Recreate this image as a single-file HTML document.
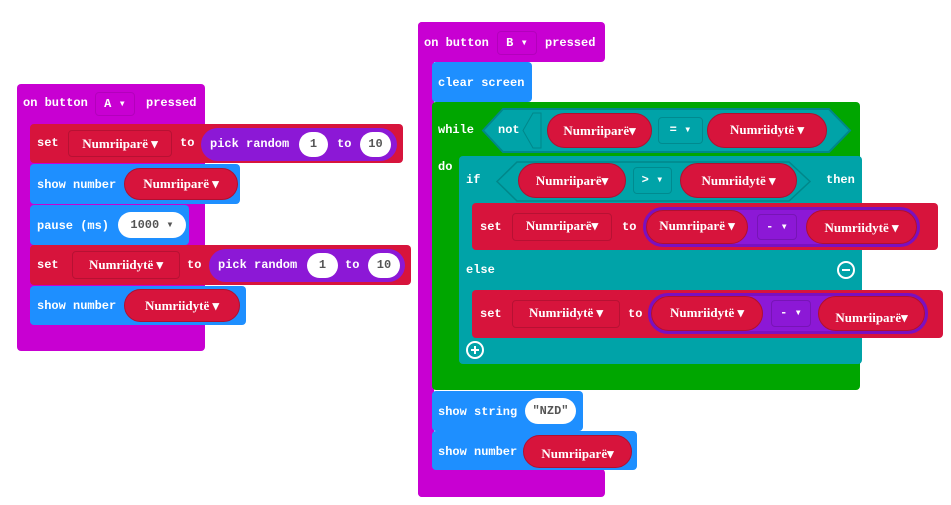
<!DOCTYPE html>
<html><head><meta charset="utf-8">
<style>
body{margin:0;width:951px;height:505px;background:#fff;position:relative;overflow:hidden;font-family:"Liberation Mono","DejaVu Sans Mono",monospace;font-weight:bold;font-size:12px;color:#fff}
div{position:absolute;box-sizing:border-box}
.m{background:#c800d2;border-radius:4px}
.r{background:#d7143c;border-radius:4px}
.b{background:#1e8fff;border-radius:4px}
.p{background:#8c18d6;border-radius:17px}
.g{background:#00a600;border-radius:4px}
.t{background:#00a3a8;border-radius:4px}
.pill{background:#d7143c;border-radius:18px;border:1px solid #b00f30;font-family:"Liberation Serif",serif;font-size:13px;text-align:center}
.w{background:#fff;color:#555;border-radius:14px;text-align:center;font-family:"Liberation Mono",monospace}
.dd{border:1px solid rgba(0,0,0,.15);border-radius:4px;text-align:center}
.s{white-space:nowrap}
</style></head><body>

<!-- LEFT -->
<div class="m" style="left:17px;top:84px;width:188px;height:267px"></div>
<div class="s" style="left:23px;top:96px">on button</div>
<div class="dd" style="left:95px;top:92px;width:40px;height:24px;line-height:22px;border-color:rgba(0,0,0,.1)">A ▾</div>
<div class="s" style="left:146px;top:96px">pressed</div>

<div class="r" style="left:30px;top:124px;width:373px;height:39px"></div>
<div class="s" style="left:37px;top:136px">set</div>
<div class="dd" style="left:68px;top:130px;width:104px;height:27px;line-height:25px;font-family:'Liberation Serif',serif;font-size:13px">Numriiparë ▾</div>
<div class="s" style="left:180px;top:136px">to</div>
<div class="p" style="left:201px;top:128px;width:196px;height:33px"></div>
<div class="s" style="left:210px;top:137px">pick random</div>
<div class="w" style="left:299px;top:132px;width:29px;height:25px;line-height:25px">1</div>
<div class="s" style="left:337px;top:137px">to</div>
<div class="w" style="left:360px;top:132px;width:31px;height:25px;line-height:25px">10</div>

<div class="b" style="left:30px;top:164px;width:210px;height:40px"></div>
<div class="s" style="left:37px;top:178px">show number</div>
<div class="pill" style="left:124px;top:168px;width:114px;height:32px;line-height:30px">Numriiparë ▾</div>

<div class="b" style="left:30px;top:205px;width:159px;height:40px"></div>
<div class="s" style="left:37px;top:219px">pause (ms)</div>
<div class="w" style="left:118px;top:212px;width:68px;height:26px;line-height:26px">1000 ▾</div>

<div class="r" style="left:30px;top:245px;width:381px;height:40px"></div>
<div class="s" style="left:37px;top:258px">set</div>
<div class="dd" style="left:72px;top:251px;width:108px;height:28px;line-height:26px;font-family:'Liberation Serif',serif;font-size:13px">Numriidytë ▾</div>
<div class="s" style="left:187px;top:258px">to</div>
<div class="p" style="left:209px;top:249px;width:196px;height:33px"></div>
<div class="s" style="left:218px;top:258px">pick random</div>
<div class="w" style="left:307px;top:253px;width:31px;height:25px;line-height:25px">1</div>
<div class="s" style="left:345px;top:258px">to</div>
<div class="w" style="left:368px;top:253px;width:32px;height:25px;line-height:25px">10</div>

<div class="b" style="left:30px;top:286px;width:216px;height:39px"></div>
<div class="s" style="left:37px;top:299px">show number</div>
<div class="pill" style="left:124px;top:289px;width:116px;height:33px;line-height:31px">Numriidytë ▾</div>

<!-- RIGHT -->
<div class="m" style="left:418px;top:22px;width:187px;height:40px"></div>
<div class="m" style="left:418px;top:22px;width:16px;height:475px"></div>
<div class="m" style="left:418px;top:469px;width:187px;height:28px"></div>
<div class="s" style="left:424px;top:36px">on button</div>
<div class="dd" style="left:497px;top:31px;width:40px;height:24px;line-height:22px;border-color:rgba(0,0,0,.1)">B ▾</div>
<div class="s" style="left:545px;top:36px">pressed</div>

<div class="b" style="left:432px;top:62px;width:100px;height:40px"></div>
<div class="s" style="left:438px;top:76px">clear screen</div>

<div class="g" style="left:432px;top:102px;width:428px;height:288px"></div>
<div class="s" style="left:438px;top:123px">while</div>
<svg style="position:absolute;left:481px;top:107px" width="372" height="47"><polygon points="2,23.5 22,2 348,2 369,23.5 348,45 22,45" fill="#00a3a8" stroke="#00878a" stroke-width="2"/><polygon points="52,6 60,6 60,41 52,41 42,23.5" fill="none" stroke="#00878a" stroke-width="1"/></svg>
<div class="s" style="left:498px;top:123px">not</div>
<div class="pill" style="left:547px;top:113px;width:105px;height:35px;line-height:33px">Numriiparë▾</div>
<div class="dd" style="left:658px;top:117px;width:45px;height:27px;line-height:25px">= ▾</div>
<div class="pill" style="left:707px;top:113px;width:120px;height:35px;line-height:31px">Numriidytë ▾</div>

<div class="s" style="left:438px;top:160px">do</div>
<div class="t" style="left:459px;top:156px;width:403px;height:208px"></div>
<div class="s" style="left:466px;top:173px">if</div>
<svg style="position:absolute;left:495px;top:160px" width="318" height="43"><polygon points="2,21.5 22,2 294,2 315,21.5 294,41 22,41" fill="none" stroke="#00878a" stroke-width="1.5"/></svg>
<div class="pill" style="left:518px;top:163px;width:108px;height:35px;line-height:33px">Numriiparë▾</div>
<div class="dd" style="left:633px;top:167px;width:39px;height:27px;line-height:25px">&gt; ▾</div>
<div class="pill" style="left:680px;top:163px;width:117px;height:35px;line-height:33px">Numriidytë ▾</div>
<div class="s" style="left:826px;top:173px">then</div>

<div class="r" style="left:472px;top:203px;width:466px;height:47px"></div>
<div class="s" style="left:480px;top:220px">set</div>
<div class="dd" style="left:512px;top:213px;width:100px;height:28px;line-height:24px;font-family:'Liberation Serif',serif;font-size:13px">Numriiparë▾</div>
<div class="s" style="left:622px;top:220px">to</div>
<div class="p" style="left:643px;top:207px;width:277px;height:40px;border:3px solid #7a10c0;border-radius:20px"></div>
<div class="pill" style="left:646px;top:210px;width:102px;height:34px;line-height:30px">Numriiparë ▾</div>
<div class="dd" style="left:757px;top:214px;width:40px;height:26px;line-height:24px">- ▾</div>
<div class="pill" style="left:806px;top:210px;width:111px;height:34px;line-height:34px">Numriidytë ▾</div>

<div class="s" style="left:466px;top:263px">else</div>
<div style="left:837px;top:261px;width:18px;height:18px;border:2px solid #fff;border-radius:50%"><div style="left:3px;top:6px;width:8px;height:2px;background:#fff"></div></div>

<div class="r" style="left:472px;top:290px;width:471px;height:48px"></div>
<div class="s" style="left:480px;top:307px">set</div>
<div class="dd" style="left:512px;top:300px;width:108px;height:28px;line-height:24px;font-family:'Liberation Serif',serif;font-size:13px">Numriidytë ▾</div>
<div class="s" style="left:628px;top:307px">to</div>
<div class="p" style="left:648px;top:293px;width:280px;height:41px;border:3px solid #7a10c0;border-radius:20px"></div>
<div class="pill" style="left:651px;top:296px;width:112px;height:35px;line-height:31px">Numriidytë ▾</div>
<div class="dd" style="left:771px;top:300px;width:40px;height:27px;line-height:25px">- ▾</div>
<div class="pill" style="left:818px;top:296px;width:107px;height:35px;line-height:42px">Numriiparë▾</div>

<div style="left:466px;top:341px;width:18px;height:18px;border:2px solid #fff;border-radius:50%"><div style="left:3px;top:6px;width:8px;height:2px;background:#fff"></div><div style="left:6px;top:3px;width:2px;height:8px;background:#fff"></div></div>

<div class="b" style="left:432px;top:391px;width:151px;height:40px"></div>
<div class="s" style="left:438px;top:405px">show string</div>
<div class="w" style="left:525px;top:398px;width:51px;height:26px;line-height:26px">"NZD"</div>

<div class="b" style="left:432px;top:431px;width:205px;height:39px"></div>
<div class="s" style="left:438px;top:445px">show number</div>
<div class="pill" style="left:523px;top:435px;width:109px;height:33px;line-height:36px">Numriiparë▾</div>
</body></html>
